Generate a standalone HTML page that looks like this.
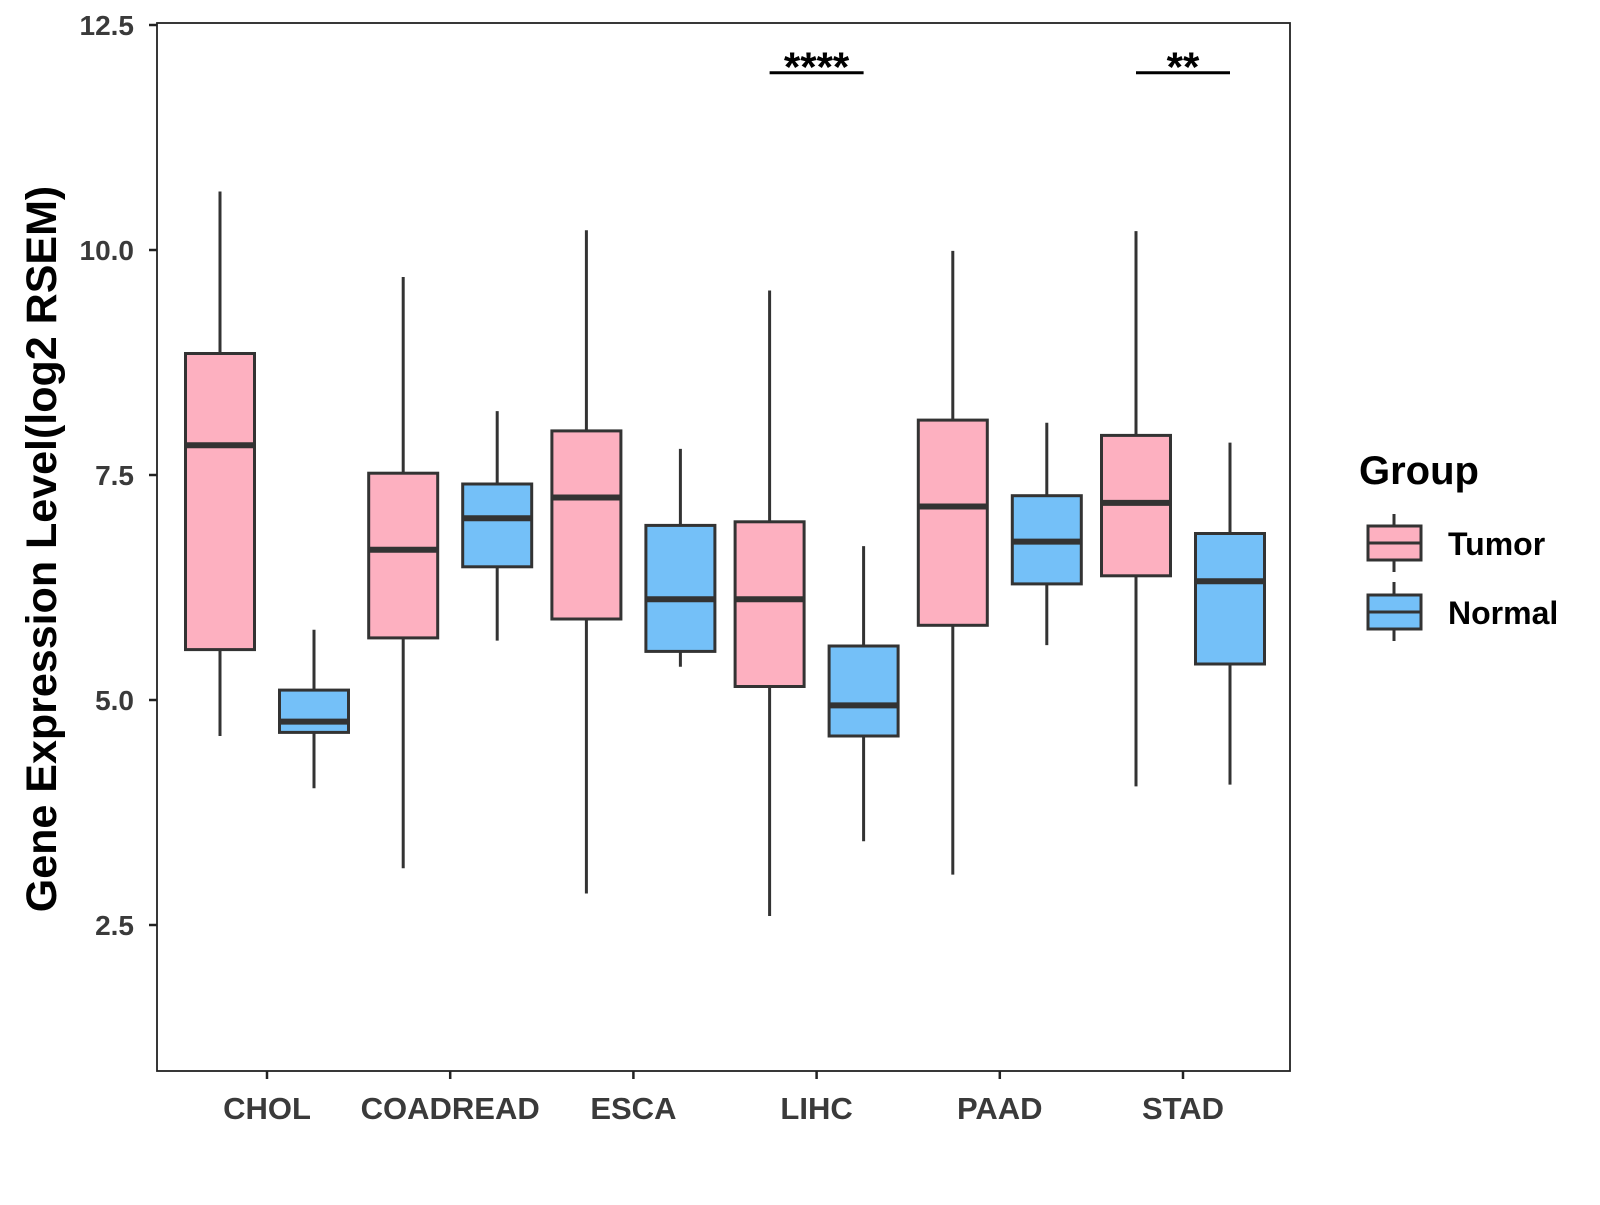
<!DOCTYPE html>
<html><head><meta charset="utf-8"><style>
html,body{margin:0;padding:0;background:#fff}
svg text{font-family:"Liberation Sans",Arial,sans-serif;font-weight:bold}
</style></head><body>
<svg id="chart" width="1600" height="1200" viewBox="0 0 1600 1200" xmlns="http://www.w3.org/2000/svg">
<rect x="0" y="0" width="1600" height="1200" fill="#fff"/>
<g id="marks"></g>
<rect x="157" y="23" width="1133" height="1048" fill="none" stroke="#222" stroke-width="1.8"/>
<g id="axes"></g>
<text x="0" y="0" transform="translate(56,549) rotate(-90)" text-anchor="middle" font-size="43" fill="#000">Gene Expression Level(log2 RSEM)</text>
<g>
<text x="1359" y="484" font-size="40" fill="#000">Group</text>
<line x1="1394" y1="514" x2="1394" y2="572" stroke="#333" stroke-width="3"/>
<rect x="1368" y="526" width="53" height="34" fill="#FDB0C0" stroke="#333" stroke-width="3"/>
<line x1="1368" y1="543" x2="1421" y2="543" stroke="#333" stroke-width="3"/>
<text x="1448" y="555" font-size="32" fill="#000">Tumor</text>
<line x1="1394" y1="582" x2="1394" y2="641" stroke="#333" stroke-width="3"/>
<rect x="1368" y="595" width="53" height="34" fill="#74C0F8" stroke="#333" stroke-width="3"/>
<line x1="1368" y1="612" x2="1421" y2="612" stroke="#333" stroke-width="3"/>
<text x="1448" y="624" font-size="32" fill="#000">Normal</text>
</g>
</svg>
<script>
const categories = ["CHOL","COADREAD","ESCA","LIHC","PAAD","STAD"];
// [low, q1, median, q3, high]
const tumorStats = [
 [4.60,5.56,7.83,8.85,10.65],
 [3.13,5.69,6.67,7.52,9.70],
 [2.85,5.90,7.25,7.99,10.22],
 [2.60,5.15,6.12,6.98,9.55],
 [3.06,5.83,7.15,8.11,9.99],
 [4.04,6.38,7.19,7.94,10.21]];
const normalStats = [
 [4.02,4.64,4.76,5.11,5.78],
 [5.66,6.48,7.02,7.40,8.21],
 [5.37,5.54,6.12,6.94,7.79],
 [3.43,4.60,4.94,5.60,6.71],
 [5.61,6.29,6.76,7.27,8.08],
 [4.06,5.40,6.32,6.85,7.86]];
const yTicks = [2.5,5.0,7.5,10.0,12.5];
const sigCategories = ["LIHC","STAD"];
const sigLabels = ["****","**"];
const sigLevel = 11.97;

const NS="http://www.w3.org/2000/svg";
function y(v){return 25+(12.5-v)*90;}
function x(i){return 267+i*183.2;}
function mk(tag,attrs,parent){const e=document.createElementNS(NS,tag);for(const k in attrs)e.setAttribute(k,attrs[k]);parent.appendChild(e);return e;}
const marks=document.getElementById('marks'), axes=document.getElementById('axes');
const bw=69, off=47;
function drawBox(s,cx,fill,name){
 const g=mk('g',{},marks);
 
 
 mk('line',{x1:cx,x2:cx,y1:y(s[4]),y2:y(s[0]),stroke:'#333','stroke-width':3},g);
 mk('rect',{x:cx-bw/2,y:y(s[3]),width:bw,height:y(s[1])-y(s[3]),fill:fill,stroke:'#333','stroke-width':3},g);
 mk('line',{x1:cx-bw/2,x2:cx+bw/2,y1:y(s[2]),y2:y(s[2]),stroke:'#333','stroke-width':6},g);
}
categories.forEach((c,i)=>{
 drawBox(tumorStats[i],x(i)-off,'#FDB0C0','box-tumor-'+c.toLowerCase());
 drawBox(normalStats[i],x(i)+off,'#74C0F8','box-normal-'+c.toLowerCase());
 mk('line',{x1:x(i),x2:x(i),y1:1071,y2:1079,stroke:'#222','stroke-width':2.5},axes);
 const t=mk('text',{x:x(i),y:1119,'text-anchor':'middle','font-size':31,fill:'#3a3a3a'},axes);
 
 
 t.textContent=c;
});
yTicks.forEach(v=>{
 mk('line',{x1:149,x2:157,y1:y(v),y2:y(v),stroke:'#222','stroke-width':2.5},axes);
 const t=mk('text',{x:134,y:y(v)+10,'text-anchor':'end','font-size':28,fill:'#3a3a3a'},axes);
 
 
 t.textContent=v.toFixed(1);
});
sigCategories.forEach((c,k)=>{
 const i=categories.indexOf(c);
 const g=mk('g',{},marks);
 
 
 mk('line',{x1:x(i)-off,x2:x(i)+off,y1:y(sigLevel),y2:y(sigLevel),stroke:'#000','stroke-width':3},g);
 const t=mk('text',{x:x(i),y:y(sigLevel)+9,'text-anchor':'middle','font-size':42,fill:'#000'},g);
 t.textContent=sigLabels[k];
});
</script>
</body></html>
